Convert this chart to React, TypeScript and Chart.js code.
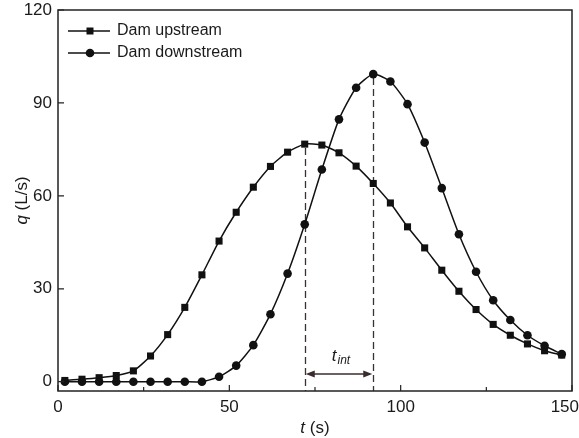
import React, { useEffect, useRef } from "react";
import { Chart, registerables } from "chart.js";

Chart.register(...registerables);

const times = [2, 7, 12, 17, 22, 27, 32, 37, 42, 47, 52, 57, 62, 67, 72, 77, 82, 87, 92, 97, 102, 107, 112, 117, 122, 127, 132, 137, 142, 147];
const upstream = [0.4, 0.8, 1.3, 2.0, 3.5, 8.3, 15.2, 24.0, 34.5, 45.4, 54.7, 62.8, 69.5, 74.1, 76.7, 76.4, 73.9, 69.6, 64.0, 57.7, 50.0, 43.2, 36.0, 29.2, 23.3, 18.5, 15.0, 12.2, 10.0, 8.6];
const downstream = [0, 0, 0, 0, 0, 0, 0, 0, 0, 1.6, 5.2, 11.8, 21.8, 34.9, 50.8, 68.5, 84.7, 94.9, 99.3, 96.9, 89.6, 77.2, 62.5, 47.6, 35.5, 26.3, 19.9, 15.0, 11.6, 8.9];
const seriesNames = ["Dam upstream", "Dam downstream"];
const xTicks = [0, 50, 100, 150];
const xMinorTicks = [25, 75, 125];
const yTicks = [0, 30, 60, 90, 120];
const xTitle = ["t", " (s)"];
const yTitle = ["q", " (L/s)"];
const intervalLabel = ["t", "int"];
const arrowLevel = 2.5;

const FONT = '"Liberation Sans", Arial, sans-serif';
const INK = "#111111";
const TEXT = "#1a1a1a";

function peakIndex(arr: number[]) {
  let k = 0;
  arr.forEach((v, i) => { if (v > arr[k]) k = i; });
  return k;
}

export default function App() {
  const ref = useRef<HTMLCanvasElement | null>(null);

  useEffect(() => {
    if (!ref.current) return;
    const iu = peakIndex(upstream);
    const id = peakIndex(downstream);

    const overlay = {
      id: "overlay",
      beforeDatasetsDraw(chart: any) {
        const { ctx, chartArea: a, scales } = chart;
        const xs = scales.x, ys = scales.y;
        ctx.save();
        ctx.strokeStyle = "#3a3232";
        ctx.lineWidth = 1.3;
        ctx.setLineDash([7, 4]);
        [[times[iu], upstream[iu]], [times[id], downstream[id]]].forEach(([t, v]) => {
          const px = Math.round(xs.getPixelForValue(t)) + 0.5;
          ctx.beginPath();
          ctx.moveTo(px, ys.getPixelForValue(v) + 4);
          ctx.lineTo(px, a.bottom);
          ctx.stroke();
        });
        ctx.restore();
      },
      afterDraw(chart: any) {
        const { ctx, chartArea: a, scales, width } = chart;
        const xs = scales.x, ys = scales.y;
        ctx.save();
        // frame
        ctx.strokeStyle = "#222";
        ctx.lineWidth = 1.5;
        ctx.setLineDash([]);
        ctx.strokeRect(a.left, a.top, a.right - a.left, a.bottom - a.top);
        // ticks (inward)
        ctx.lineWidth = 1.2;
        ctx.beginPath();
        xTicks.forEach((v) => {
          const px = xs.getPixelForValue(v);
          ctx.moveTo(px, a.bottom);
          ctx.lineTo(px, a.bottom - 6);
        });
        xMinorTicks.forEach((v) => {
          const px = xs.getPixelForValue(v);
          ctx.moveTo(px, a.bottom);
          ctx.lineTo(px, a.bottom - 4);
        });
        yTicks.forEach((v) => {
          const py = ys.getPixelForValue(v);
          ctx.moveTo(a.left, py);
          ctx.lineTo(a.left + 6, py);
        });
        ctx.stroke();

        // x tick labels (kept inside the figure)
        ctx.fillStyle = TEXT;
        ctx.font = `17px ${FONT}`;
        ctx.textBaseline = "middle";
        ctx.textAlign = "left";
        xs.ticks.forEach((tk: any) => {
          const label = String(tk.value);
          const w = ctx.measureText(label).width;
          let lx = xs.getPixelForValue(tk.value) - w / 2;
          if (lx + w > width) lx = width - w;
          ctx.fillText(label, lx, 407);
        });

        // arrow between peaks
        const x1 = xs.getPixelForValue(times[iu]) + 1;
        const x2 = xs.getPixelForValue(times[id]) - 1;
        const ay = ys.getPixelForValue(arrowLevel);
        ctx.strokeStyle = "#3a2c2c";
        ctx.fillStyle = "#3a2c2c";
        ctx.lineWidth = 1.4;
        ctx.beginPath();
        ctx.moveTo(x1 + 4, ay);
        ctx.lineTo(x2 - 4, ay);
        ctx.stroke();
        ctx.beginPath();
        ctx.moveTo(x1, ay);
        ctx.lineTo(x1 + 9, ay - 3.5);
        ctx.lineTo(x1 + 9, ay + 3.5);
        ctx.closePath();
        ctx.fill();
        ctx.beginPath();
        ctx.moveTo(x2, ay);
        ctx.lineTo(x2 - 9, ay - 3.5);
        ctx.lineTo(x2 - 9, ay + 3.5);
        ctx.closePath();
        ctx.fill();

        // t_int label
        ctx.fillStyle = TEXT;
        ctx.textBaseline = "alphabetic";
        ctx.textAlign = "left";
        ctx.font = `italic 17px ${FONT}`;
        const wT = ctx.measureText(intervalLabel[0]).width;
        ctx.font = `italic 12px ${FONT}`;
        const wS = ctx.measureText(intervalLabel[1]).width;
        const cx = (x1 + x2) / 2 + 2;
        const bx = cx - (wT + wS + 1) / 2;
        const by = ay - 13;
        ctx.font = `italic 17px ${FONT}`;
        ctx.fillText(intervalLabel[0], bx, by);
        ctx.font = `italic 12px ${FONT}`;
        ctx.fillText(intervalLabel[1], bx + wT + 1, by + 3);

        // x title
        ctx.font = `italic 17px ${FONT}`;
        const wx1 = ctx.measureText(xTitle[0]).width;
        ctx.font = `17px ${FONT}`;
        const wx2 = ctx.measureText(xTitle[1]).width;
        const xc = (a.left + a.right) / 2;
        const xb = xc - (wx1 + wx2) / 2;
        ctx.textBaseline = "middle";
        ctx.font = `italic 17px ${FONT}`;
        ctx.fillText(xTitle[0], xb, 428);
        ctx.font = `17px ${FONT}`;
        ctx.fillText(xTitle[1], xb + wx1, 428);

        // y title
        ctx.save();
        ctx.translate(22, (a.top + a.bottom) / 2);
        ctx.rotate(-Math.PI / 2);
        ctx.font = `italic 17px ${FONT}`;
        const wy1 = ctx.measureText(yTitle[0]).width;
        ctx.font = `17px ${FONT}`;
        const wy2 = ctx.measureText(yTitle[1]).width;
        const yb = -(wy1 + wy2) / 2;
        ctx.font = `italic 17px ${FONT}`;
        ctx.fillText(yTitle[0], yb, 0);
        ctx.font = `17px ${FONT}`;
        ctx.fillText(yTitle[1], yb + wy1, 0);
        ctx.restore();

        // legend
        const styles = ["rect", "circle"];
        const rows = [31, 53];
        rows.forEach((ry, i) => {
          ctx.strokeStyle = INK;
          ctx.fillStyle = INK;
          ctx.lineWidth = 1.5;
          ctx.beginPath();
          ctx.moveTo(a.left + 10, ry);
          ctx.lineTo(a.left + 52, ry);
          ctx.stroke();
          ctx.beginPath();
          if (styles[i] === "rect") {
            ctx.rect(a.left + 32 - 3.5, ry - 3.5, 7, 7);
          } else {
            ctx.arc(a.left + 32, ry, 4.3, 0, Math.PI * 2);
          }
          ctx.fill();
          ctx.fillStyle = TEXT;
          ctx.font = `16px ${FONT}`;
          ctx.textBaseline = "middle";
          ctx.textAlign = "left";
          ctx.fillText(seriesNames[i], a.left + 59, ry);
        });
        ctx.restore();
      },
    };

    const chart = new Chart(ref.current, {
      type: "line",
      data: {
        datasets: [
          {
            label: seriesNames[0],
            data: times.map((t, i) => ({ x: t, y: upstream[i] })),
            borderColor: INK,
            backgroundColor: INK,
            borderWidth: 1.5,
            pointStyle: "rect",
            pointRadius: 5,
            pointBorderWidth: 0,
            tension: 0.2,
          },
          {
            label: seriesNames[1],
            data: times.map((t, i) => ({ x: t, y: downstream[i] })),
            borderColor: INK,
            backgroundColor: INK,
            borderWidth: 1.5,
            pointStyle: "circle",
            pointRadius: 4.3,
            pointBorderWidth: 0,
            tension: 0.2,
          },
        ],
      },
      options: {
        responsive: false,
        animation: false,
        layout: { padding: { left: 0, right: 7, top: 10, bottom: 0 } },
        plugins: { legend: { display: false }, tooltip: { enabled: false } },
        scales: {
          x: {
            type: "linear",
            min: 0,
            max: 150,
            grid: { display: false, drawTicks: false },
            border: { display: false },
            ticks: { display: false },
            afterBuildTicks: (s: any) => { s.ticks = xTicks.map((v) => ({ value: v })); },
            afterFit: (s: any) => { s.height = 47; s.paddingLeft = 0; s.paddingRight = 0; },
          },
          y: {
            type: "linear",
            min: -3,
            max: 120,
            grid: { display: false, drawTicks: false },
            border: { display: false },
            ticks: { color: TEXT, font: { family: FONT, size: 17 }, padding: 6 },
            afterBuildTicks: (s: any) => { s.ticks = yTicks.map((v) => ({ value: v })); },
            afterFit: (s: any) => { s.width = 58; s.paddingTop = 0; s.paddingBottom = 0; },
          },
        },
      },
      plugins: [overlay],
    } as any);
    return () => chart.destroy();
  }, []);

  return (
    <canvas
      ref={ref}
      width={579}
      height={438}
      style={{ position: "absolute", left: 0, top: 0, width: 579, height: 438 }}
    />
  );
}
